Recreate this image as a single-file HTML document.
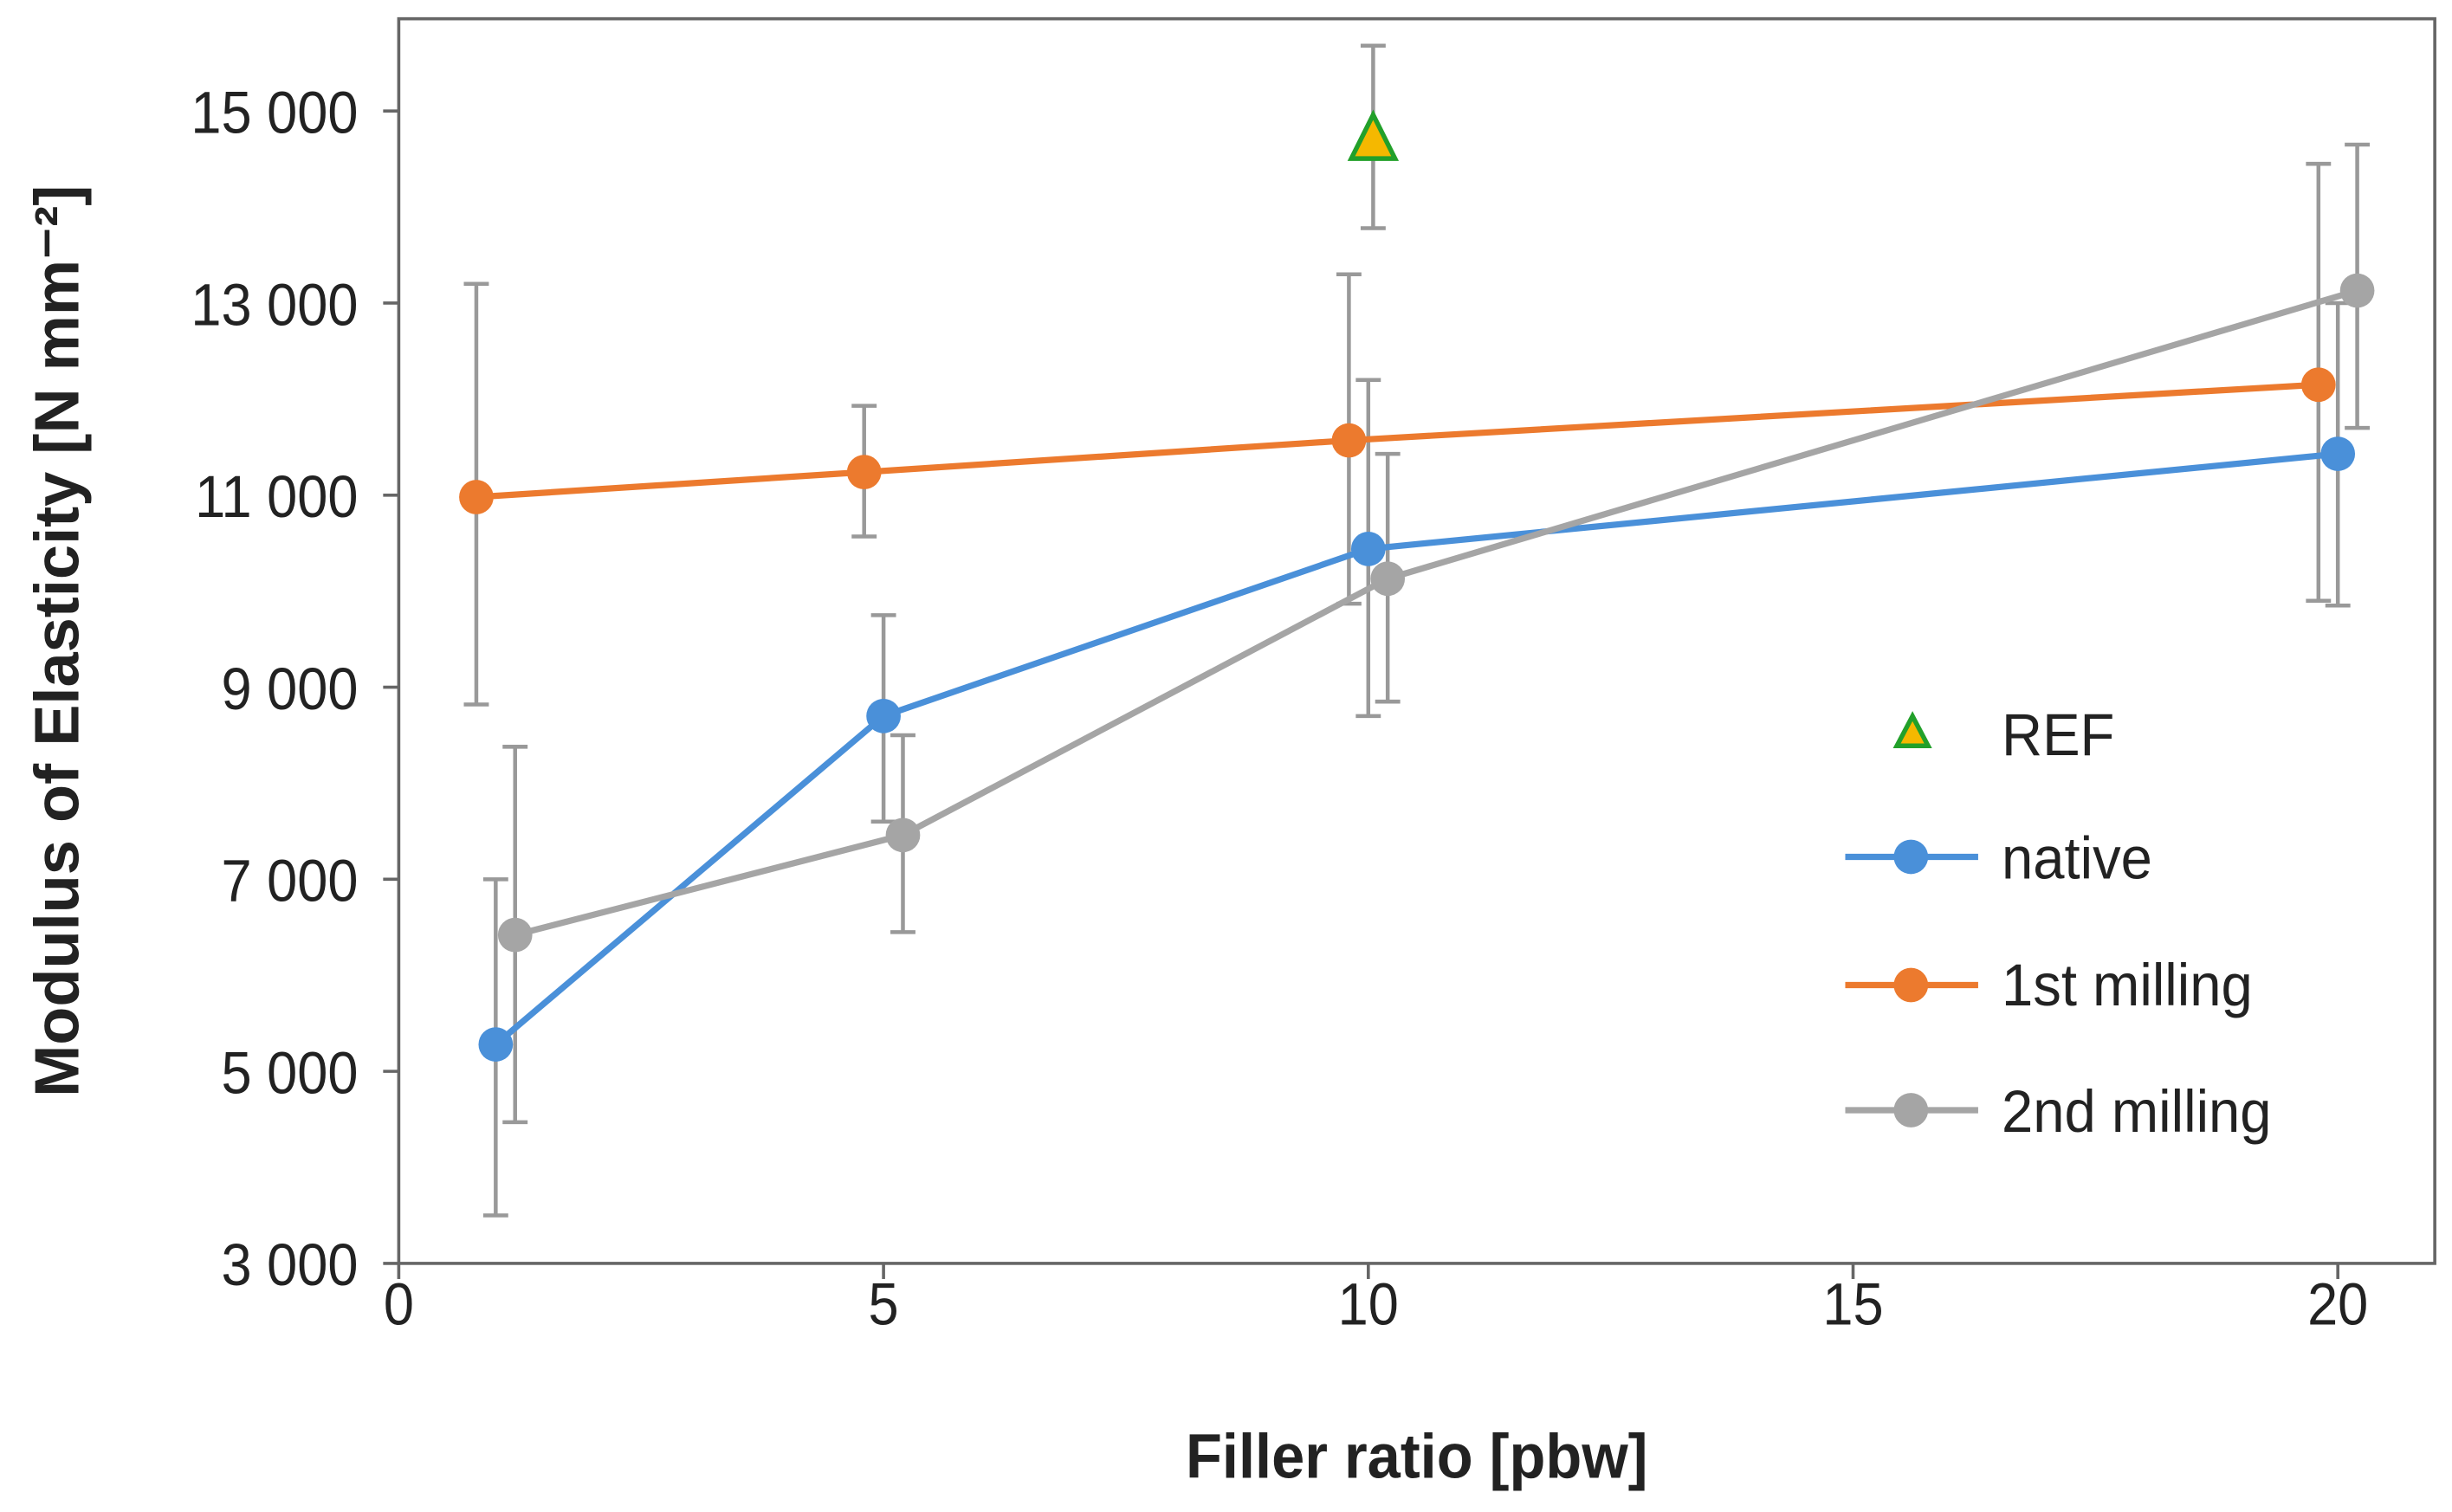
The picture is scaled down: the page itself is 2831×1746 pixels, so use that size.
<!DOCTYPE html>
<html><head><meta charset="utf-8">
<style>
html,body{margin:0;padding:0;background:#fff;}
svg{display:block;}
text{font-family:"Liberation Sans",sans-serif;fill:#222;}
</style></head>
<body>
<svg id="chart" width="2831" height="1746" viewBox="0 0 1568 967" preserveAspectRatio="none" xmlns="http://www.w3.org/2000/svg">
<rect x="255" y="12" width="1302" height="796" fill="#fff" stroke="#666" stroke-width="2"/>
<g id="axes"></g>
<g id="errs"></g>
<g id="lines"></g>
<text x="906" y="945" text-anchor="middle" font-size="40" font-weight="bold" transform="translate(906 0) scale(0.95 1) translate(-906 0)">Filler ratio [pbw]</text>
<text transform="translate(50 410) rotate(-90)" text-anchor="middle" font-size="40" font-weight="bold">Modulus of Elasticity [N mm⁻²]</text>
<g>
<polygon points="1223,458 1213,477 1233,477" fill="#f5b800" stroke="#22a02a" stroke-width="3"/>
<text x="1280" y="483" font-size="38" transform="translate(1280 0) scale(0.95 1) translate(-1280 0)">REF</text>
<line x1="1180" y1="548" x2="1265" y2="548" stroke="#4a90d9" stroke-width="4"/>
<circle cx="1222" cy="548" r="11" fill="#4a90d9"/>
<text x="1280" y="562" font-size="38" transform="translate(1280 0) scale(0.95 1) translate(-1280 0)">native</text>
<line x1="1180" y1="630" x2="1265" y2="630" stroke="#ec7a2e" stroke-width="4"/>
<circle cx="1222" cy="630" r="11" fill="#ec7a2e"/>
<text x="1280" y="643" font-size="38" transform="translate(1280 0) scale(0.95 1) translate(-1280 0)">1st milling</text>
<line x1="1180" y1="710" x2="1265" y2="710" stroke="#a5a5a5" stroke-width="4"/>
<circle cx="1222" cy="710" r="11" fill="#a5a5a5"/>
<text x="1280" y="724" font-size="38" transform="translate(1280 0) scale(0.95 1) translate(-1280 0)">2nd milling</text>
</g>
</svg>
<script>
const xTicks=[0,5,10,15,20];
const yTicks=[3000,5000,7000,9000,11000,13000,15000];
const yTickLabels=["3 000","5 000","7 000","9 000","11 000","13 000","15 000"];
const nativeX=[1,5,10,20];
const nativeY=[5280,8700,10440,11430];
const nativeLo=[3500,7600,8700,9850];
const nativeHi=[7000,9750,12200,13000];
const mill1X=[0.8,4.8,9.8,19.8];
const mill1Y=[10980,11240,11570,12150];
const mill1Lo=[8820,10570,9870,9900];
const mill1Hi=[13200,11930,13300,14450];
const mill2X=[1.2,5.2,10.2,20.2];
const mill2Y=[6420,7460,10130,13130];
const mill2Lo=[4470,6450,8850,11700];
const mill2Hi=[8380,8500,11430,14650];
const refX=[10.05];
const refY=[14700];
const refLo=[13780];
const refHi=[15680];

const NS="http://www.w3.org/2000/svg";
const sx=v=>255+v*62;
const sy=v=>808-(v-3000)*(737/12000);
function mk(tag,attrs,parent){const e=document.createElementNS(NS,tag);for(const k in attrs)e.setAttribute(k,attrs[k]);parent.appendChild(e);return e;}
const axes=document.getElementById('axes'),errs=document.getElementById('errs'),lines=document.getElementById('lines');
xTicks.forEach(t=>{
  const l=mk('line',{x1:sx(t),x2:sx(t),y1:808,y2:818,stroke:'#666','stroke-width':2},axes);
  
  
  const tx=mk('text',{x:sx(t),y:847,'text-anchor':'middle','font-size':38,transform:`translate(${sx(t)} 0) scale(0.92 1) translate(${-sx(t)} 0)`},axes);
  
  
  tx.textContent=t;
});
yTicks.forEach((t,i)=>{
  const l=mk('line',{x1:245,x2:255,y1:sy(t),y2:sy(t),stroke:'#666','stroke-width':2},axes);
  
  
  const tx=mk('text',{x:229,y:sy(t)+14,'text-anchor':'end','font-size':38,transform:'translate(229 0) scale(0.92 1) translate(-229 0)'},axes);
  
  
  tx.textContent=yTickLabels[i];
});
function errBars(xs,lo,hi,name){
  xs.forEach((x,i)=>{
    const g=mk('g',{stroke:'#999','stroke-width':2.5},errs);
    
    
    mk('line',{x1:sx(x),x2:sx(x),y1:sy(lo[i]),y2:sy(hi[i])},g);
    mk('line',{x1:sx(x)-8,x2:sx(x)+8,y1:sy(lo[i]),y2:sy(lo[i])},g);
    mk('line',{x1:sx(x)-8,x2:sx(x)+8,y1:sy(hi[i]),y2:sy(hi[i])},g);
  });
}
errBars(nativeX,nativeLo,nativeHi,'native');
errBars(mill1X,mill1Lo,mill1Hi,'1st-milling');
errBars(mill2X,mill2Lo,mill2Hi,'2nd-milling');
errBars(refX,refLo,refHi,'ref');
function series(xs,ys,color,name){
  const p=mk('polyline',{points:xs.map((x,i)=>sx(x)+','+sy(ys[i])).join(' '),fill:'none',stroke:color,'stroke-width':4},lines);
  
  
  xs.forEach((x,i)=>{
    const c=mk('circle',{cx:sx(x),cy:sy(ys[i]),r:11,fill:color},lines);
    
    
  });
}
series(mill1X,mill1Y,'#ec7a2e','1st-milling');
series(nativeX,nativeY,'#4a90d9','native');
series(mill2X,mill2Y,'#a5a5a5','2nd-milling');
refX.forEach((x,i)=>{
  const cx=sx(x),cy=sy(refY[i]);
  const t=mk('polygon',{points:`${cx},${cy-16} ${cx-14},${cy+12} ${cx+14},${cy+12}`,fill:'#f5b800',stroke:'#22a02a','stroke-width':3},lines);
  
  
});
</script>
</body></html>
